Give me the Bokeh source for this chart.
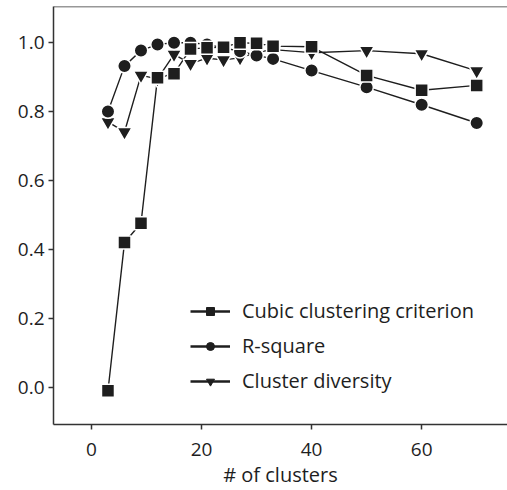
from bokeh.plotting import figure
from bokeh.models import (ColumnDataSource, Legend, LegendItem, Span, Range1d, FixedTicker,
                          CustomJSTickFormatter)
from bokeh.embed import file_html
from bokeh.resources import INLINE

clusters = [3, 6, 9, 12, 15, 18, 21, 24, 27, 30, 33, 40, 50, 60, 70]
ccc = [-0.01, 0.42, 0.476, 0.898, 0.91, 0.982, 0.985, 0.987, 1.0, 0.998, 0.99, 0.988, 0.905, 0.862, 0.876]
rsquare = [0.80, 0.932, 0.977, 0.995, 1.0, 1.0, 0.995, 0.985, 0.975, 0.963, 0.953, 0.919, 0.871, 0.820, 0.767]
diversity = [0.770, 0.741, 0.905, 0.895, 0.966, 0.939, 0.955, 0.950, 0.956, 0.972, 0.980, 0.971, 0.977, 0.968, 0.918]
series_names = ["Cubic clustering criterion", "R-square", "Cluster diversity"]
x_ticks = [0, 20, 40, 60]
y_ticks = [0.0, 0.2, 0.4, 0.6, 0.8, 1.0]
x_label = "# of clusters"

FONT = "Open Sans"
INK = "#1e1e1e"

src = ColumnDataSource(dict(x=clusters, ccc=ccc, rsq=rsquare, div=diversity))

p = figure(width=507, height=490, output_backend="svg", toolbar_location=None,
           x_range=Range1d(-6.9, 75.6), y_range=Range1d(-0.108, 1.105),
           min_border_left=53, min_border_top=6, min_border_right=0, min_border_bottom=65)
p.outline_line_color = None
p.grid.visible = False
p.background_fill_color = "white"
p.border_fill_color = "white"

for ax in (p.xaxis[0], p.yaxis[0]):
    ax.axis_line_color = "#333333"
    ax.axis_line_width = 1.5
    ax.major_tick_line_color = "#333333"
    ax.major_tick_line_width = 1.5
    ax.major_tick_out = 5
    ax.major_tick_in = 0
    ax.minor_tick_line_color = None
    ax.major_label_text_font = FONT
    ax.major_label_text_font_size = "19px"
    ax.major_label_text_color = INK

p.xaxis.ticker = FixedTicker(ticks=x_ticks)
p.yaxis.ticker = FixedTicker(ticks=y_ticks)
p.yaxis.formatter = CustomJSTickFormatter(code="return tick.toFixed(1);")
p.xaxis.major_label_standoff = 13
p.yaxis.major_label_standoff = 4

p.xaxis.axis_label = x_label
p.xaxis.axis_label_standoff = 2
p.xaxis.axis_label_text_font = FONT
p.xaxis.axis_label_text_font_size = "20px"
p.xaxis.axis_label_text_font_style = "normal"
p.xaxis.axis_label_text_color = INK

p.add_layout(Span(location=1.105, dimension="width", line_color="#333333", line_width=1.5))

# lines
for col in ("ccc", "rsq", "div"):
    p.line("x", col, source=src, line_color=INK, line_width=1.4)

p.scatter("x", "div", source=src, marker="inverted_triangle", size=15,
          fill_color=INK, line_color="white", line_width=1.5)
p.scatter("x", "rsq", source=src, marker="circle", size=13.5,
          fill_color=INK, line_color="white", line_width=1.5)
p.scatter("x", "ccc", source=src, marker="square", size=13,
          fill_color=INK, line_color="white", line_width=1.5)

# legend proxies (same data, hidden in the plot)
items = []
for name, col, mk in zip(series_names, ["ccc", "rsq", "div"], ["square", "circle", "inverted_triangle"]):
    r1 = p.line("x", col, source=src, line_color=INK, line_width=2.5, visible=False)
    r2 = p.scatter("x", col, source=src, marker=mk, size=9, fill_color=INK, line_color=INK, visible=False)
    items.append(LegendItem(label=name, renderers=[r1, r2]))

leg = Legend(items=items, location=(137, 30), border_line_color=None,
             background_fill_alpha=0, padding=0, margin=0, spacing=8,
             glyph_width=40, glyph_height=20, label_height=20, label_standoff=12,
             label_text_font=FONT, label_text_font_size="20px", label_text_color=INK,
             click_policy="none")
p.add_layout(leg, "center")

open("out.html", "w").write(file_html(p, INLINE))
